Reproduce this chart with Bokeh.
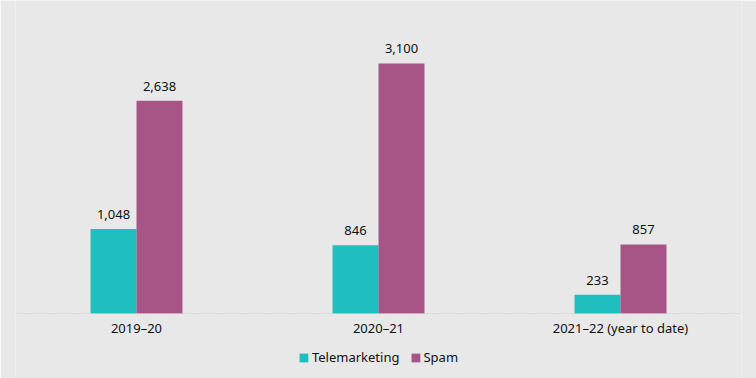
from bokeh.plotting import figure
from bokeh.models import ColumnDataSource, FactorRange, Range1d, Legend, LegendItem, CategoricalAxis
from bokeh.transform import dodge
from bokeh.embed import file_html
from bokeh.resources import INLINE
from bokeh.core.properties import value

categories = ["2019\u201320", "2020\u201321", "2021\u201322 (year to date)"]
telemarketing = [1048, 846, 233]
spam = [2638, 3100, 857]
series_names = ["Telemarketing", "Spam"]
colors = ["#1FBFBF", "#A65586"]
FONT = "Noto Sans"

src = ColumnDataSource(dict(
    cat=categories,
    tele=telemarketing,
    spam=spam,
    tele_lbl=[f"{v:,}" for v in telemarketing],
    spam_lbl=[f"{v:,}" for v in spam],
))

p = figure(frame_width=726, frame_height=378, x_range=FactorRange(*categories),
           y_range=Range1d(-806, 3881), output_backend="svg", toolbar_location=None,
           x_axis_location=None, y_axis_location=None,
           background_fill_color="#E8E8E8", border_fill_color="#E8E8E8",
           min_border_left=15, min_border_right=15, min_border_top=0, min_border_bottom=0)
p.outline_line_color = None
p.xgrid.grid_line_color = None
p.ygrid.grid_line_color = None

bw = 0.19
r1 = p.vbar(x=dodge("cat", -bw / 2, range=p.x_range), top="tele", width=bw, source=src,
            color=colors[0], line_color=None)
r2 = p.vbar(x=dodge("cat", bw / 2, range=p.x_range), top="spam", width=bw, source=src,
            color=colors[1], line_color=None)

p.text(x=dodge("cat", -bw / 2, range=p.x_range), y="tele", text="tele_lbl", source=src,
       text_align="center", text_baseline="bottom", y_offset=-10,
       text_font=value(FONT), text_font_size="13px", text_color="#111111")
p.text(x=dodge("cat", bw / 2, range=p.x_range), y="spam", text="spam_lbl", source=src,
       text_align="center", text_baseline="bottom", y_offset=-10,
       text_font=value(FONT), text_font_size="13px", text_color="#111111")

ax = CategoricalAxis(fixed_location=0)
ax.axis_line_color = "#C4C4C4"
ax.axis_line_dash = "1 2"
ax.major_tick_line_color = None
ax.minor_tick_line_color = None
ax.major_tick_out = 0
ax.major_tick_in = 0
ax.major_label_text_font = FONT
ax.major_label_text_font_size = "13px"
ax.major_label_text_color = "#111111"
ax.major_label_standoff = 6
p.add_layout(ax, "below")

legend = Legend(items=[LegendItem(label=series_names[0], renderers=[r1]),
                       LegendItem(label=series_names[1], renderers=[r2])],
                orientation="horizontal", location="bottom_center",
                background_fill_alpha=0, border_line_color=None,
                label_text_font=FONT, label_text_font_size="13px", label_text_color="#111111",
                glyph_width=11, glyph_height=11, label_standoff=3, spacing=10,
                padding=4, margin=12)
p.add_layout(legend)

open("out.html", "w").write(file_html(p, INLINE))
